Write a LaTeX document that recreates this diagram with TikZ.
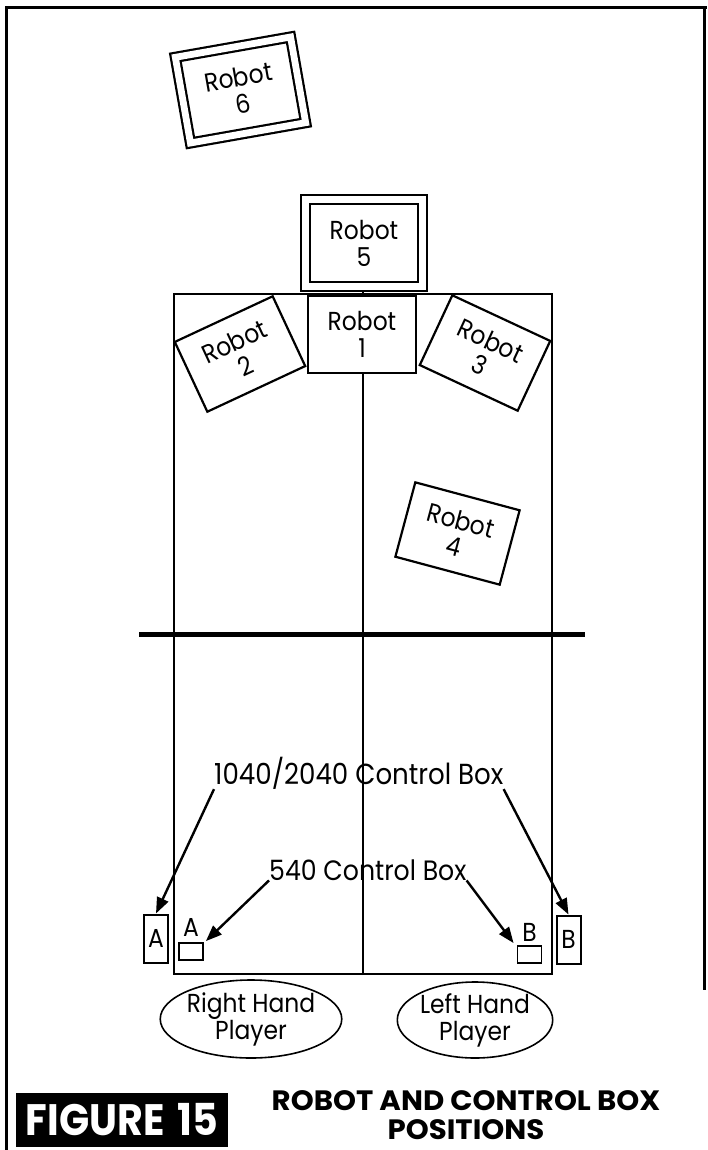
\documentclass[tikz,border=0pt]{standalone}
\usepackage{fontspec}
\usepackage{graphicx}
\setmainfont{Poppins}[FakeStretch=0.9]
\usetikzlibrary{arrows.meta, shapes.geometric}
\begin{document}
\begin{tikzpicture}[x=1pt,y=-1pt,
 every node/.style={font=\fontsize{26}{27}\selectfont, inner sep=0pt},
 lw/.style={line width=2pt},
 fieldbox/.style={draw, line width=2pt, minimum width=378pt, minimum height=680pt},
 robotbox/.style={draw, line width=2.2pt, fill=white, minimum width=108pt, minimum height=77pt, align=center},
 dblbox/.style={draw, line width=2.2pt, double, double distance=6.8pt, minimum width=117pt, minimum height=87pt, align=center},
 ctrlbig/.style={draw, line width=2pt, minimum width=24pt, minimum height=48pt},
 ctrlsmall/.style={draw, line width=1.8pt, minimum width=24pt, minimum height=17pt},
 player/.style={ellipse, draw, line width=1.6pt, align=center},
 pointer/.style={line width=2.4pt, -{Triangle[length=16pt,width=12pt]}},
 lbl/.style={anchor=base west},
]
\useasboundingbox (0,0) rectangle (707,1150);
% frame
\draw[line width=3pt] (6,1150) -- (6,8) -- (707,8);
\draw[line width=3pt] (704.5,8) -- (704.5,990);
% field
\node[fieldbox] (field) at (362.5,634) {};
\draw[lw] (field.south) -- ([yshift=3pt]field.north);
\draw[line width=5pt] ([xshift=-33.5pt]field.west) -- ([xshift=32.5pt]field.east);
% robots
\node[dblbox] (r6) at (240.5,90) [rotate=10] {Robot\\6};
\node[dblbox] (r5) at (364,243) {Robot\\5};
\node[robotbox] (r1) at (362,334.5) {Robot\\1};
\node[robotbox, rotate=25] (r2) at (240,354) {Robot\\2};
\node[robotbox, rotate=-25] (r3) at (485,353) {Robot\\3};
\node[robotbox, rotate=-15] (r4) at (457.5,533.5) {Robot\\4};
% control boxes
\node[ctrlbig] (bigA) at (156,938.5) {A};
\node[ctrlbig] (bigB) at (568.5,939.5) {B};
\node[ctrlsmall] (smallA) at (191,951.5) {};
\node[ctrlsmall] (smallB) at (529.5,954.5) {};
\node[anchor=base] (labA) at ([yshift=6pt]smallA.north) {A};
\node[anchor=base] (labB) at ([yshift=4pt]smallB.north) {B};
% labels
\node[lbl, font=\fontsize{29}{30}\selectfont] (ctl1) at (214,784) {1040/2040 Control Box};
\node[lbl, font=\fontsize{28}{30}\selectfont] (ctl2) at (269,880) {540 Control Box};
\draw[pointer] (ctl1.south west) -- (bigA.north);
\draw[pointer] (ctl1.south east) -- (bigB.north);
\draw[pointer] (ctl2.south west) -- ([shift={(2,-1)}]smallA.north east);
\draw[pointer] (ctl2.south east) -- ([shift={(-3,-2)}]smallB.north west);
% players
\node[player, minimum width=141pt, minimum height=78pt] (rhp) at (251,1019) {Right Hand\\Player};
\node[player, minimum width=152pt, minimum height=76pt] (lhp) at (475,1020) {Left Hand\\Player};
% title
\node[fill=black, text=white, minimum width=212pt, minimum height=54pt, font=\fontsize{44}{44}\selectfont\bfseries] (fig) at (122,1120) {FIGURE\hspace{0.3em}15};
\node[align=center, font=\fontsize{28}{29}\selectfont\bfseries] (cap) at (466,1115.5) {\scalebox{1.16}[1]{ROBOT AND CONTROL BOX}\\\scalebox{1.16}[1]{POSITIONS}};
\end{tikzpicture}
\end{document}
